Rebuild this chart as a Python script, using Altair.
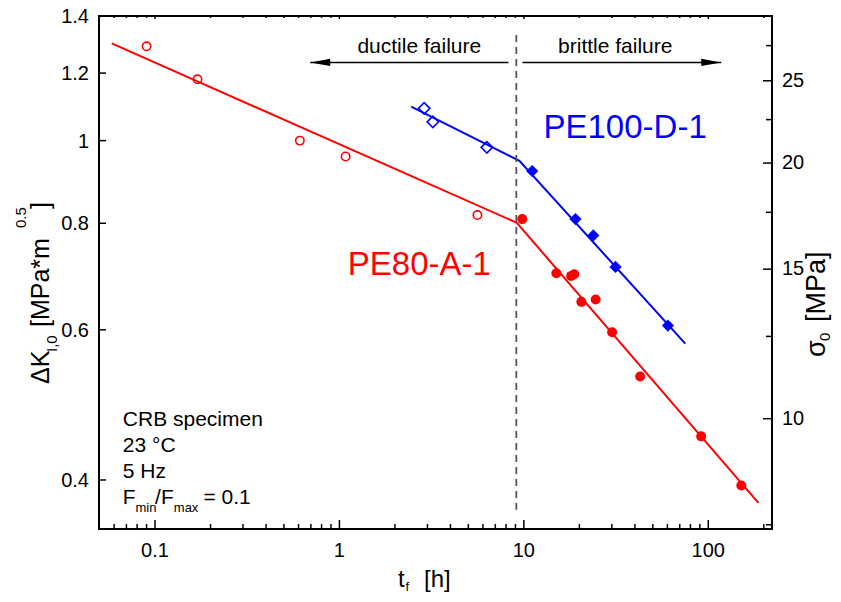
import altair as alt
import pandas as pd

# ---------------- data ----------------
pe80_ductile_t = [0.09, 0.17, 0.61, 1.08, 5.6]
pe80_ductile_K = [1.29, 1.18, 1.0, 0.958, 0.818]
pe80_brittle_t = [9.8, 15.0, 18.05, 18.75, 20.5, 24.5, 30.1, 42.7, 91.5, 151.0]
pe80_brittle_K = [0.809, 0.699, 0.694, 0.697, 0.647, 0.651, 0.596, 0.529, 0.450, 0.394]

pe100_ductile_t = [2.88, 3.21, 6.3]
pe100_ductile_K = [1.091, 1.052, 0.982]
pe100_brittle_t = [11.1, 19.05, 23.8, 31.4, 60.4]
pe100_brittle_K = [0.921, 0.809, 0.774, 0.711, 0.607]

pe80_fit_t = [0.0583, 9.16, 187.0]
pe80_fit_K = [1.300, 0.801, 0.376]
pe100_fit_t = [2.45, 9.46, 75.0]
pe100_fit_K = [1.096, 0.947, 0.578]

transition_t = [9.1]
transition_K = [1.33]
transition_K2 = [0.369]

arrow_start_t = [8.25, 9.83]
arrow_end_t = [0.694, 117.5]
arrow_K = [1.235, 1.235]

# axes: tick values and tick labels
x_major = [0.1, 1, 10, 100]
x_labels = ["0.1", "1", "10", "100"]
x_minor = [0.06, 0.07, 0.08, 0.09, 0.2, 0.3, 0.4, 0.5, 0.6, 0.7, 0.8, 0.9,
           2, 3, 4, 5, 6, 7, 8, 9, 20, 30, 40, 50, 60, 70, 80, 90, 200]
y_major = [0.4, 0.6, 0.8, 1.0, 1.2, 1.4]
y_labels = ["0.4", "0.6", "0.8", "1", "1.2", "1.4"]
s_major = [10, 15, 20, 25]
s_labels = ["10", "15", "20", "25"]
s_minor = [7.5, 12.5, 17.5, 22.5, 27.5]

x_domain = [0.0497, 221.5]
y_domain = [0.3504, 1.4]
s_domain = [7.415, 29.8]

info_lines = ["CRB specimen", "23 °C", "5 Hz"]
info_K = [0.463, 0.431, 0.402]
info_t = 0.0669
ratio_K = 0.3747

# ---------------- styling ----------------
FONT = "Liberation Sans"
W, H = 673, 513
RED = "#ff0000"
BLUE = "#0000ff"

xs = alt.Scale(type="log", domain=x_domain, nice=False)
ys = alt.Scale(type="log", domain=y_domain, nice=False)
ss = alt.Scale(type="log", domain=s_domain, nice=False)

X = alt.X("t:Q", scale=xs, axis=None)
Y = alt.Y("K:Q", scale=ys, axis=None)

one = pd.DataFrame({"a": [0]})


def df(t, K, **extra):
    d = {"t": t, "K": K}
    d.update(extra)
    return pd.DataFrame(d)


line80 = alt.Chart(df(pe80_fit_t, pe80_fit_K)).mark_line(color=RED, strokeWidth=2).encode(x=X, y=Y)
line100 = alt.Chart(df(pe100_fit_t, pe100_fit_K)).mark_line(color=BLUE, strokeWidth=2).encode(x=X, y=Y)

dashed = alt.Chart(pd.DataFrame({"t": transition_t, "K": transition_K, "K2": transition_K2})).mark_rule(
    color="#555555", strokeWidth=1.8, strokeDash=[7, 5]).encode(x=X, y=Y, y2="K2:Q")

arrows = alt.Chart(pd.DataFrame({"t": arrow_start_t, "t2": arrow_end_t, "K": arrow_K})).mark_rule(
    color="black", strokeWidth=1.5).encode(x=X, x2="t2:Q", y=Y)
head_left = alt.Chart(df([arrow_end_t[0]], [arrow_K[0]])).mark_point(
    shape="M 0 0 L 2 -0.36 L 2 0.36 Z", size=400, filled=True, fill="black", strokeWidth=0, opacity=1
).encode(x=X, y=Y)
head_right = alt.Chart(df([arrow_end_t[1]], [arrow_K[1]])).mark_point(
    shape="M 0 0 L -2 -0.36 L -2 0.36 Z", size=400, filled=True, fill="black", strokeWidth=0, opacity=1
).encode(x=X, y=Y)

pts80_open = alt.Chart(df(pe80_ductile_t, pe80_ductile_K)).mark_point(
    shape="circle", size=70, filled=False, color=RED, strokeWidth=1.6, opacity=1).encode(x=X, y=Y)
pts80_fill = alt.Chart(df(pe80_brittle_t, pe80_brittle_K)).mark_point(
    shape="circle", size=100, filled=True, color=RED, opacity=1).encode(x=X, y=Y)
pts100_open = alt.Chart(df(pe100_ductile_t, pe100_ductile_K)).mark_point(
    shape="diamond", size=130, filled=False, color=BLUE, strokeWidth=1.6, opacity=1).encode(x=X, y=Y)
pts100_fill = alt.Chart(df(pe100_brittle_t, pe100_brittle_K)).mark_point(
    shape="diamond", size=150, filled=True, color=BLUE, opacity=1).encode(x=X, y=Y)


def label(text, t, K, size, color="black", align="center", dx=0, dy=0):
    return alt.Chart(df([t], [K], txt=[text])).mark_text(
        font=FONT, fontSize=size, color=color, align=align, baseline="alphabetic", dx=dx, dy=dy
    ).encode(x=X, y=Y, text="txt:N")


texts = [
    label("ductile failure", 2.71, 1.266, 21),
    label("brittle failure", 31.3, 1.266, 21),
    label("PE100-D-1", 35.4, 1.008, 33, BLUE),
    label("PE80-A-1", 2.71, 0.696, 33, RED),
]
info = alt.Chart(pd.DataFrame({"t": [info_t] * 3, "K": info_K, "txt": info_lines})).mark_text(
    font=FONT, fontSize=21, color="black", align="left", baseline="alphabetic").encode(x=X, y=Y, text="txt:N")
ratio = [
    label("F", info_t, ratio_K, 21, align="left"),
    label("min", info_t, ratio_K, 13, align="left", dx=12.7, dy=8),
    label("/F", info_t, ratio_K, 21, align="left", dx=32.3),
    label("max", info_t, ratio_K, 13, align="left", dx=51, dy=8),
    label("= 0.1", info_t, ratio_K, 21, align="left", dx=80.6),
]


def title_piece(text, x, y, size, angle=0):
    kw = dict(font=FONT, fontSize=size, color="black", align="left", baseline="alphabetic", text=text)
    if angle:
        kw["angle"] = angle
    return alt.Chart(one).mark_text(**kw).encode(x=alt.value(x), y=alt.value(y))


titles = [
    # x axis title  t_f [h]
    title_piece("t", 299, 571, 24),
    title_piece("f", 306.5, 574.5, 13),
    title_piece("[h]", 325, 571, 24),
    # left axis title  ΔK_I,0 [MPa*m^0.5]
    title_piece("ΔK", -50, 368, 25, 270),
    title_piece("I,0", -42, 336, 15, 270),
    title_piece("[MPa*m", -50, 311, 25, 270),
    title_piece("0.5", -73, 212, 15, 270),
    title_piece("]", -50, 193, 25, 270),
    # right axis title  σ_0 [MPa]
    title_piece("σ", 725.5, 341, 27, 270),
    title_piece("0", 731, 325, 15, 270),
    title_piece("[MPa]", 725.5, 306, 27, 270),
]

# inward ticks and tick labels
xt_major = alt.Chart(pd.DataFrame({"t": x_major})).mark_rule(color="black", strokeWidth=1.5).encode(
    x=X, y=alt.value(H), y2=alt.value(H - 9))
xt_minor = alt.Chart(pd.DataFrame({"t": x_minor})).mark_rule(color="black", strokeWidth=1.5).encode(
    x=X, y=alt.value(H), y2=alt.value(H - 5))
xt_top_major = alt.Chart(pd.DataFrame({"t": x_major})).mark_rule(color="black", strokeWidth=1.5).encode(
    x=X, y=alt.value(0), y2=alt.value(3))
xt_top_minor = alt.Chart(pd.DataFrame({"t": x_minor})).mark_rule(color="black", strokeWidth=1.5).encode(
    x=X, y=alt.value(0), y2=alt.value(2))
xt_labels = alt.Chart(pd.DataFrame({"t": x_major, "txt": x_labels})).mark_text(
    font=FONT, fontSize=20, color="black", align="center", baseline="alphabetic").encode(
    x=X, y=alt.value(H + 27.5), text="txt:N")
yt_major = alt.Chart(pd.DataFrame({"K": y_major})).mark_rule(color="black", strokeWidth=1.5).encode(
    y=Y, x=alt.value(0), x2=alt.value(7))
yt_labels = alt.Chart(pd.DataFrame({"K": y_major, "txt": y_labels})).mark_text(
    font=FONT, fontSize=20, color="black", align="right", baseline="middle", dy=1).encode(
    y=Y, x=alt.value(-10), text="txt:N")

left = alt.layer(
    line80, line100, dashed, arrows, head_left, head_right,
    pts80_open, pts80_fill, pts100_open, pts100_fill,
    *texts, info, *ratio, *titles, xt_major, xt_minor, xt_top_major, xt_top_minor,
    xt_labels, yt_major, yt_labels,
)

S = alt.Y("s:Q", scale=ss, axis=None)
st_major = alt.Chart(pd.DataFrame({"s": s_major})).mark_rule(color="black", strokeWidth=1.5).encode(
    y=S, x=alt.value(W), x2=alt.value(W - 9))
st_minor = alt.Chart(pd.DataFrame({"s": s_minor})).mark_rule(color="black", strokeWidth=1.5).encode(
    y=S, x=alt.value(W), x2=alt.value(W - 6))
st_labels = alt.Chart(pd.DataFrame({"s": s_major, "txt": s_labels})).mark_text(
    font=FONT, fontSize=20, color="black", align="left", baseline="middle").encode(
    y=S, x=alt.value(W + 10), text="txt:N")
right = alt.layer(st_major, st_minor, st_labels)

chart = alt.layer(left, right).resolve_scale(y="independent").properties(
    width=W, height=H,
    autosize=alt.AutoSizeParams(type="none"),
    padding={"left": 91, "top": 8, "right": 60, "bottom": 64},
    background="white",
).configure_view(stroke="black", strokeWidth=2)

chart.save("out.html", embed_options={"renderer": "svg", "actions": False})
